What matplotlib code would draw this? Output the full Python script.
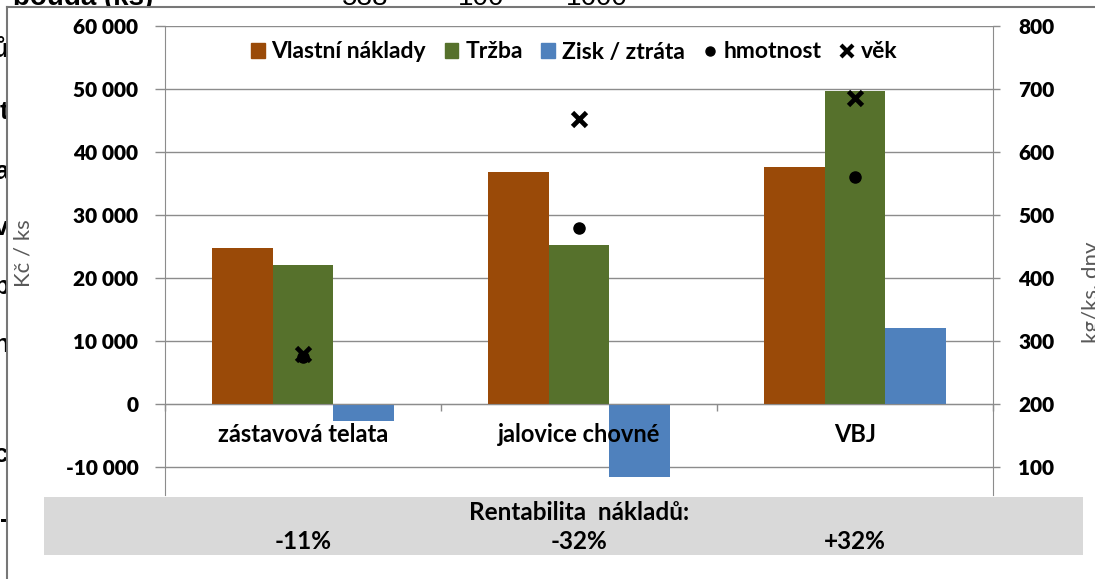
import numpy as np
import matplotlib.pyplot as plt
import matplotlib.transforms as mtransforms
from matplotlib.lines import Line2D
from matplotlib.patches import Patch

# data
kategorie = ['zástavová telata', 'jalovice chovné', 'VBJ']
naklady = [24700, 36800, 37600]
trzba = [22000, 25200, 49700]
zisk = [-2700, -11600, 12100]
hmotnost = [275, 480, 560]
vek = [280, 653, 686]
rentabilita = ['-11%', '-32%', '+32%']
leve_ticky = [-10000, 0, 10000, 20000, 30000, 40000, 50000, 60000]
prave_ticky = [100, 200, 300, 400, 500, 600, 700, 800]
legenda = ['Vlastní náklady', 'Tržba', 'Zisk / ztráta', 'hmotnost', 'věk']

# document text peeking from behind the chart box
horni_radek = ['538', '100', '1600']
levy_okraj = ['ů', 't', 'a', 'v', 'p', 'n', 'c', '-']

plt.rcParams['font.family'] = ['Lato', 'DejaVu Sans']

oranzova = '#9a4a08'
zelena = '#56712c'
modra = '#4f81bd'
seda = '#8c8c8c'

W, H = 1095, 579
fig = plt.figure(figsize=(W / 100, H / 100), dpi=100)


def fx(px):
    return px / W


def fy(py):
    return 1 - py / H


# bits of the surrounding document
fig.text(fx(153), fy(5), 'bouda (ks)', ha='right', va='baseline', fontsize=20,
         fontweight='bold', family='Liberation Sans', zorder=-1)
for t, px in zip(horni_radek, [365, 481, 597]):
    fig.text(fx(px), fy(5), t, ha='center', va='baseline', fontsize=20,
             family='Liberation Sans', zorder=-1)
for t, py in zip(levy_okraj, [50, 112, 172, 228, 287, 345, 455, 520]):
    fig.text(fx(9), fy(py), t, ha='right', va='center', fontsize=19,
             fontweight='bold', family='Liberation Sans', zorder=-1)

# chart box
ramec = fig.add_axes([fx(7), 0, 1 - fx(7), fy(7)])
ramec.set_facecolor('white')
ramec.set_xticks([])
ramec.set_yticks([])
for s in ['right', 'bottom']:
    ramec.spines[s].set_visible(False)
for s in ['left', 'top']:
    ramec.spines[s].set_color('#777777')
    ramec.spines[s].set_linewidth(1.5)

# main plot
ax = fig.add_axes([fx(165), fy(495), fx(993) - fx(165), fy(26) - fy(495)])
ax.set_facecolor('none')
x = np.arange(len(kategorie))
w = 0.221
ax.bar(x - w, naklady, w, color=oranzova, zorder=2)
ax.bar(x, trzba, w, color=zelena, zorder=2)
ax.bar(x + w, zisk, w, color=modra, zorder=2)
ax.set_xlim(-0.5, 2.5)
ax.set_ylim(-14440, 60000)
ax.set_yticks(leve_ticky)
ax.set_yticklabels([f'{v:,}'.replace(',', ' ') for v in leve_ticky],
                   fontsize=15, fontweight='heavy')
ax.yaxis.grid(True, color=seda, lw=1)
ax.set_axisbelow(True)
ax.tick_params(axis='y', direction='out', length=7.2, width=1, color=seda, pad=12)
ax.spines['top'].set_visible(False)
ax.spines['right'].set_visible(False)
ax.spines['left'].set_color(seda)
ax.spines['bottom'].set_position(('data', 0))
ax.spines['bottom'].set_color(seda)
ax.spines['bottom'].set_zorder(3)
ax.set_xticks([-0.5, 0.5, 1.5, 2.5])
ax.set_xticklabels([])
ax.tick_params(axis='x', direction='out', length=5, width=1, color=seda)
for i, k in enumerate(kategorie):
    ax.annotate(k, (i, 0), xytext=(0, -22), textcoords='offset points',
                ha='center', va='center', fontsize=17, fontweight='bold')

ax2 = ax.twinx()
ax2.set_ylim(55.6, 800)
ax2.set_yticks(prave_ticky)
ax2.set_yticklabels([str(v) for v in prave_ticky], fontsize=15, fontweight='heavy')
ax2.tick_params(axis='y', direction='out', length=5, width=1, color=seda, pad=13)
for s in ['top', 'bottom', 'left']:
    ax2.spines[s].set_visible(False)
ax2.spines['right'].set_color(seda)
ax2.plot(x, hmotnost, 'o', color='black', ms=8, zorder=4)
ax2.plot(x, vek, 'x', color='black', ms=9.5, mew=3.4, zorder=4)

fig.text(fx(24), fy(253), 'Kč / ks', rotation=90, ha='center', va='center',
         fontsize=16, color='#595959')
fig.text(fx(1092), fy(292), 'kg/ks, dny', rotation=90, ha='center', va='center',
         fontsize=16, color='#595959')

handles = [Patch(color=oranzova), Patch(color=zelena), Patch(color=modra),
           Line2D([], [], ls='none', marker='o', color='black', ms=6.5),
           Line2D([], [], ls='none', marker='x', color='black', ms=9, mew=3)]
ax.legend(handles, legenda, loc='center', bbox_to_anchor=(fx(574), fy(52)),
          bbox_transform=fig.transFigure, ncol=5, frameon=False,
          handlelength=0.6, handleheight=0.6, handletextpad=0.3,
          columnspacing=0.8, prop={'size': 16.5, 'weight': 'bold'})

# grey band with cost profitability
pas = fig.add_axes([fx(44), fy(555), fx(1083) - fx(44), fy(497) - fy(555)])
pas.set_facecolor('#d9d9d9')
pas.set_xticks([])
pas.set_yticks([])
for s in pas.spines.values():
    s.set_visible(False)
tr = mtransforms.blended_transform_factory(ax.transData, pas.transAxes)
pas.text(1, 0.74, 'Rentabilita  nákladů:', transform=tr, ha='center', va='center',
         fontsize=17.5, fontweight='bold')
for i, r in enumerate(rentabilita):
    pas.text(i, 0.24, r, transform=tr, ha='center', va='center',
             fontsize=17.5, fontweight='bold')

fig.savefig('out.png', dpi=100)
